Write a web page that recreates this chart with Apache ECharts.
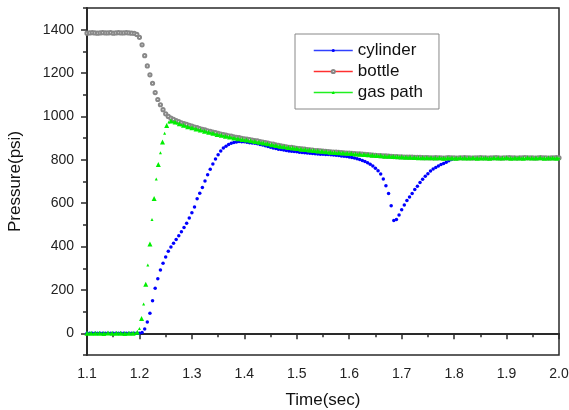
<!DOCTYPE html>
<html>
<head>
<meta charset="utf-8">
<script src="https://cdn.jsdelivr.net/npm/echarts@6/dist/echarts.min.js"></script>
<style>
  html, body { margin: 0; padding: 0; background: #fff; }
  #main { width: 569px; height: 410px; }
</style>
</head>
<body>
<div id="main"></div>
<script>
// sample grids (start time + step, seconds)
var t0 = 1.1;
var cylinderStep = 0.005;
var bottleStep = 0.005;
var gasStep = 0.004;

// cylinder pressure (psi), one value per 0.005 s from 1.1 s
var cylinder = [
  0,0,0,0,0,0,0,0,0,0, 0,0,0,0,0,0,0,0,0,0,
  0,4,20,52,92,150,208,252,292,323,
  352,378,398,415,432,450,468,488,508,532,
  556,582,620,646,672,702,731,757,781,804,
  823,841,854,863,871,876,880,882,884,883,
  883,881,879,878,876,874,871,868,865,861,
  858,855,852,849,847,845,843,841,840,838,
  837,835,834,832,831,830,829,828,827,826,
  826,825,824,823,822,821,820,818,817,815,
  813,811,808,805,802,797,792,786,779,772,
  761,750,735,712,680,645,588,520,525,545,
  570,592,612,628,645,663,678,695,710,724,
  736,748,758,765,771,778,783,789,796,801,
  805,807,808,808,809,808,807,808,809,808,
  808,807,808,808,809,808,808,807,808,809,
  808,808,807,808,809,808,808,808,807,808,
  809,808,808,807,808,809,808,808,808,808,
  808
];

// bottle pressure (psi), one value per 0.005 s from 1.1 s
var bottle = [
  1384,1385,1386,1385,1384,1385,1386,1385,1385,1386,
  1384,1385,1386,1385,1385,1386,1385,1384,1383,1378,
  1365,1330,1280,1233,1192,1153,1110,1078,1054,1031,
  1012,1000,992,986,981,976,971,967,963,959,
  955,951,948,944,941,938,934,931,928,925,
  922,919,916,914,911,909,906,904,902,899,
  897,895,893,891,889,887,884,882,879,877,
  874,872,869,867,864,862,860,858,857,855,
  853,852,850,849,847,846,845,843,842,841,
  840,839,838,837,836,835,834,833,832,831,
  831,830,829,828,827,826,825,824,823,822,
  821,820,819,818,818,817,816,815,815,814,
  814,813,813,812,812,811,811,811,810,810,
  810,809,809,810,809,809,808,809,810,809,
  809,808,809,809,810,809,809,808,809,809,
  810,809,809,808,809,809,810,809,808,809,
  809,810,809,809,808,809,809,810,809,809,
  809,808,809,810,809,809,808,809,809,810,
  809
];

// gas path pressure (psi), one value per 0.004 s from 1.1 s
var gasPath = [
  0,1,0,-1,0,1,0,0,-1,0,1,0,0,-1,0,1,0,0,-1,0,0,1,0,2,5,
  22,68,135,226,315,412,525,622,712,778,
  832,882,922,958,974,979,977,974,970,966,
  962,959,956,953,950,948,945,942,940,937,
  935,932,930,927,925,922,920,917,915,913,
  911,909,907,905,903,901,899,897,896,894,
  893,891,889,888,886,885,883,881,880,878,
  876,874,872,870,868,866,865,863,861,860,
  858,857,856,854,853,852,851,849,848,847,
  846,845,844,843,842,841,840,839,838,837,
  836,835,835,834,833,833,832,831,831,830,
  830,829,828,827,827,826,825,824,824,823,
  822,821,821,820,819,819,818,817,817,816,
  816,815,815,814,814,813,813,812,812,812,
  811,811,811,810,810,810,810,809,809,809,
  809,808,808,809,808,807,808,808,809,808,
  808,807,808,809,808,808,807,808,808,809,
  808,807,808,808,809,808,808,807,808,809,
  808,808,807,808,808,809,808,807,808,808,
  809,808,808,807,808,809,808,808,807,808,
  808,809,808,807,808,808,809,808,808,807,
  808
];

// axis ticks
var xMajor = [1.1, 1.2, 1.3, 1.4, 1.5, 1.6, 1.7, 1.8, 1.9, 2.0];
var xMinor = [1.15, 1.25, 1.35, 1.45, 1.55, 1.65, 1.75, 1.85, 1.95];
var yMajor = [0, 200, 400, 600, 800, 1000, 1200, 1400];
var yMinor = [-100, 100, 300, 500, 700, 900, 1100, 1300, 1500];

function toPairs(values, step) {
    return values.map(function (v, i) {
        return [+(t0 + i * step).toFixed(4), v];
    });
}

var myChart = echarts.init(document.getElementById('main'), null, { renderer: 'canvas' });

var axisColor = '#2a2a2a';
var font = 'Liberation Sans, Arial, sans-serif';

var option = {
    animation: false,
    backgroundColor: '#fff',
    textStyle: { fontFamily: font },
    grid: {
        left: 87, right: 10, top: 8, bottom: 55,
        outerBoundsMode: 'none',
        containLabel: false,
        show: true,
        borderColor: axisColor,
        borderWidth: 1.5,
        backgroundColor: 'transparent'
    },
    legend: {
        orient: 'vertical',
        left: 295,
        top: 34,
        padding: [8, 16, 8, 18],
        itemWidth: 39,
        itemHeight: 4,
        itemGap: 4,
        borderColor: '#888',
        borderWidth: 1,
        backgroundColor: '#fff',
        textStyle: { fontSize: 17, color: '#111', fontFamily: font },
        data: [
            { name: 'cylinder', lineStyle: { color: '#3040ff', width: 1.5, opacity: 1 } },
            { name: 'bottle', lineStyle: { color: '#ff3030', width: 1.5, opacity: 1 } },
            { name: 'gas path', lineStyle: { color: '#20f020', width: 1.5, opacity: 1 } }
        ]
    },
    xAxis: [{
        type: 'value',
        min: 1.1,
        max: 2.0,
        position: 'bottom',
        name: 'Time(sec)',
        nameLocation: 'middle',
        nameGap: 37,
        nameTextStyle: { fontSize: 17, color: '#111', fontFamily: font },
        axisLine: { lineStyle: { color: axisColor, width: 2 } },
        axisTick: { customValues: xMajor, length: 6, lineStyle: { color: axisColor, width: 1.5 } },
        axisLabel: {
            customValues: xMajor,
            fontSize: 14, color: '#222', margin: 12,
            formatter: function (v) { return v.toFixed(1); }
        },
        splitLine: { show: false }
    }, {
        type: 'value',
        min: 1.1,
        max: 2.0,
        position: 'bottom',
        axisLine: { show: false },
        axisTick: { customValues: xMinor, length: 4, lineStyle: { color: axisColor, width: 1.5 } },
        axisLabel: { show: false },
        splitLine: { show: false }
    }],
    yAxis: [{
        type: 'value',
        min: -100,
        max: 1500,
        position: 'left',
        name: 'Pressure(psi)',
        nameLocation: 'middle',
        nameGap: 63,
        nameTextStyle: { fontSize: 17, color: '#111', fontFamily: font },
        axisLine: { show: true, lineStyle: { color: axisColor, width: 2 } },
        axisTick: { show: true, customValues: yMajor, length: 6, lineStyle: { color: axisColor, width: 1.5 } },
        axisLabel: {
            customValues: yMajor, fontSize: 14, color: '#222', margin: 13,
            formatter: function (v) { return String(v); }
        },
        splitLine: { show: false }
    }, {
        type: 'value',
        min: -100,
        max: 1500,
        position: 'left',
        axisLine: { show: false },
        axisTick: { show: true, customValues: yMinor, length: 4, lineStyle: { color: axisColor, width: 1.5 } },
        axisLabel: { show: false },
        splitLine: { show: false }
    }],
    series: [
        {
            name: 'cylinder',
            type: 'line',
            data: toPairs(cylinder, cylinderStep),
            symbol: 'circle',
            symbolSize: 3.5,
            showSymbol: true,
            showAllSymbol: true,
            lineStyle: { color: '#0000ff', opacity: 0 },
            itemStyle: { color: '#0000ff' },
            emphasis: { disabled: true }
        },
        {
            name: 'bottle',
            type: 'line',
            data: toPairs(bottle, bottleStep),
            symbol: 'emptyCircle',
            symbolSize: 3.2,
            showSymbol: true,
            showAllSymbol: true,
            lineStyle: { color: '#ff3030', opacity: 0 },
            itemStyle: { color: '#888888', borderWidth: 0.8 },
            emphasis: { disabled: true }
        },
        {
            name: 'gas path',
            type: 'line',
            data: toPairs(gasPath, gasStep),
            symbol: 'triangle',
            symbolSize: function (val, params) {
                return params.dataIndex % 2 ? 3 : 5;
            },
            showSymbol: true,
            showAllSymbol: true,
            lineStyle: { color: '#00ee00', opacity: 0 },
            itemStyle: { color: '#00ee00' },
            emphasis: { disabled: true }
        }
    ]
};

myChart.setOption(option);
window.addEventListener('resize', function () {
    myChart.resize();
});
</script>
</body>
</html>
